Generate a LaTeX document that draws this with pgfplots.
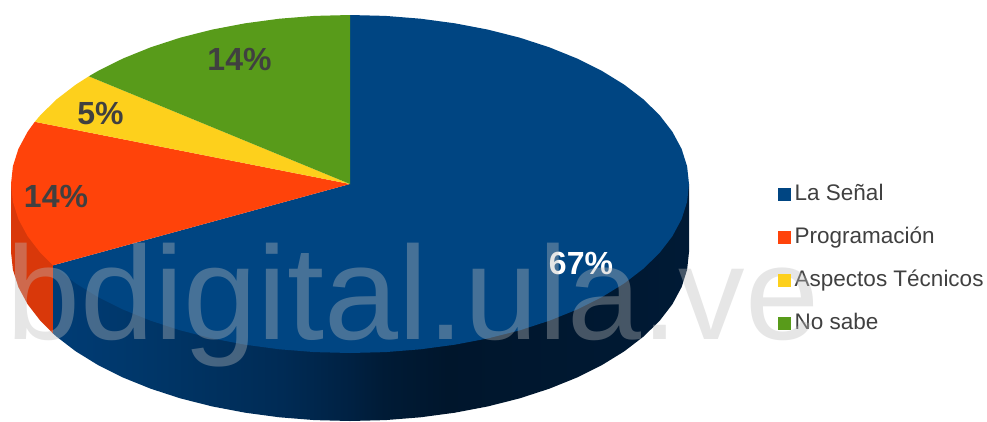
\documentclass[border=0pt]{standalone}
\usepackage{fontspec}
\setmainfont{Liberation Sans}
\usepackage{pgfplots}
\pgfplotsset{compat=1.18}
\definecolor{cblue}{RGB}{0,69,130}
\definecolor{cred}{RGB}{255,67,10}
\definecolor{cyellow}{RGB}{253,208,28}
\definecolor{cgreen}{RGB}{88,155,26}
\definecolor{credside}{RGB}{217,56,10}
\definecolor{ctext}{RGB}{64,64,64}
\definecolor{wm}{RGB}{188,188,188}
\pgfdeclarehorizontalshading{blueside}{100bp}{
  rgb(0bp)=(0,0.235,0.459);
  rgb(25bp)=(0,0.235,0.459);
  rgb(32.6bp)=(0,0.212,0.408);
  rgb(43bp)=(0,0.169,0.333);
  rgb(48.5bp)=(0,0.129,0.259);
  rgb(51bp)=(0,0.106,0.212);
  rgb(56bp)=(0,0.086,0.173);
  rgb(75bp)=(0,0.102,0.208);
  rgb(100bp)=(0,0.102,0.208)}
\begin{document}
\begin{tikzpicture}
\begin{axis}[
  at={(0pt,0pt)}, anchor=south west,
  scale only axis, width=987pt, height=421pt,
  xmin=0, xmax=987, ymin=0, ymax=421, y dir=reverse,
  axis lines=none, clip=false,
]
% blue side
\addplot[draw=none, shading=blueside, forget plot] coordinates {
 (689,184) (689,252) (687.1,269.7) (681.6,287.1) (672.4,304.2) (659.7,320.7) (643.6,336.5)
 (624.3,351.3) (601.9,365.1) (576.8,377.6) (549.3,388.7) (519.5,398.4) (487.9,406.4)
 (454.8,412.7) (420.5,417.3) (385.4,420.1) (350,421) (314.6,420.1) (279.5,417.3) (245.2,412.7)
 (212.1,406.4) (180.5,398.4) (150.7,388.7) (123.2,377.6) (98.1,365.1) (75.7,351.3) (56.4,336.5)
 (52.9,333.4) (52.9,265.4) (689,184)} ;
% red side
\addplot[draw=none, fill=credside, forget plot] coordinates {
 (11,184) (11,252) (12.9,269.7) (18.4,287.1) (27.6,304.2) (40.3,320.7) (52.9,333.4) (52.9,265.4) (11,184)};
% La Senal top
\addplot[draw=none, fill=cblue, forget plot] coordinates {
 (350,184) (350,15) (385.4,15.9) (420.5,18.7) (454.8,23.3) (487.9,29.6) (519.5,37.6) (549.3,47.3)
 (576.8,58.4) (601.9,70.9) (624.3,84.7) (643.6,99.5) (659.7,115.3) (672.4,131.8) (681.6,148.9)
 (687.1,166.3) (689,184) (687.1,201.7) (681.6,219.1) (672.4,236.2) (659.7,252.7) (643.6,268.5)
 (624.3,283.3) (601.9,297.1) (576.8,309.6) (549.3,320.7) (519.5,330.4) (487.9,338.4) (454.8,344.7)
 (420.5,349.3) (385.4,352.1) (350,353) (314.6,352.1) (279.5,349.3) (245.2,344.7) (212.1,338.4)
 (180.5,330.4) (150.7,320.7) (123.2,309.6) (98.1,297.1) (75.7,283.3) (56.4,268.5) (52.9,265.4) (350,184)};
% Programacion top
\addplot[draw=none, fill=cred, forget plot] coordinates {
 (350,184) (52.9,265.4) (40.3,252.7) (27.6,236.2) (18.4,219.1) (12.9,201.7) (11,184) (12.9,166.3)
 (18.4,148.9) (27.6,131.8) (34.8,121.8) (350,184)};
% Aspectos Tecnicos top
\addplot[draw=none, fill=cyellow, forget plot] coordinates {
 (350,184) (34.8,121.8) (40.3,115.3) (56.4,99.5) (75.7,84.7) (88.8,76.3) (350,184)};
% No sabe top
\addplot[draw=none, fill=cgreen, forget plot] coordinates {
 (350,184) (88.8,76.3) (98.1,70.9) (123.2,58.4) (150.7,47.3) (180.5,37.6) (212.1,29.6) (245.2,23.3)
 (279.5,18.7) (314.6,15.9) (350,15) (350,184)};
% legend keys
\addplot[color=cblue, only marks, mark=square*, mark size=6pt, mark options={line width=0pt, fill=cblue}] coordinates {(784,194)};
\addplot[color=cred, only marks, mark=square*, mark size=6pt, mark options={line width=0pt, fill=cred}] coordinates {(784,237)};
\addplot[color=cyellow, only marks, mark=square*, mark size=6pt, mark options={line width=0pt, fill=cyellow}] coordinates {(784,280)};
\addplot[color=cgreen, only marks, mark=square*, mark size=6pt, mark options={line width=0pt, fill=cgreen}] coordinates {(784,323)};
% legend text
\begin{scope}[every node/.style={anchor=base west, inner sep=0pt, text=ctext, font=\fontsize{22.5}{26}\selectfont}]
\node at (axis cs:794.5,200.7) {La Señal};
\node at (axis cs:794.5,243.7) {Programación};
\node at (axis cs:794.5,286.7) {Aspectos Técnicos};
\node at (axis cs:794.5,329.7) {No sabe};
\end{scope}
% data labels
\begin{scope}[every node/.style={anchor=base, inner sep=0pt, text=ctext, font=\fontsize{32}{36}\bfseries\selectfont}]
\node at (axis cs:239.5,70.7) {14\%};
\node at (axis cs:100.5,124) {5\%};
\node at (axis cs:56,207) {14\%};
\node[text=white] at (axis cs:581,274) {67\%};
\end{scope}
% watermark
\node[anchor=base west, inner sep=0pt, text=wm, text opacity=.375, font=\fontsize{133}{140}\selectfont] at (axis cs:6,339) {bdigital.ula.ve};
\end{axis}
\path[use as bounding box] (0pt,0pt) rectangle (987pt,421pt);
\end{tikzpicture}
\end{document}
